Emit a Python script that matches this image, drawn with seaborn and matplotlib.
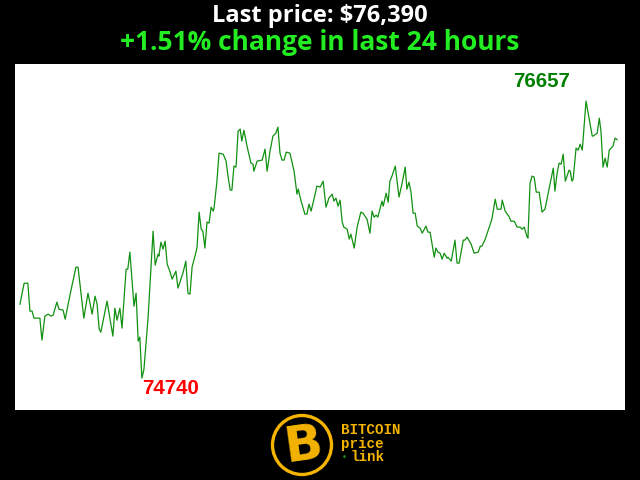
import matplotlib
matplotlib.use("Agg")
import matplotlib.pyplot as plt
import seaborn as sns
import pandas as pd
from matplotlib.patches import Ellipse

# minutes since start of the 24h window
minutes = [0, 10, 19, 24, 29, 34, 48, 53, 60, 68, 75, 80, 89, 94, 104, 109, 121, 135, 140, 154,
           164, 174, 181, 186, 191, 195, 210, 224, 229, 234, 241, 246, 256, 260, 265, 275, 280, 285, 289, 294,
           299, 309, 321, 326, 333, 335, 340, 345, 350, 355, 362, 367, 376, 381, 393, 400, 405, 410, 415, 425,
           427, 432, 437, 441, 446, 451, 456, 461, 466, 468, 475, 480, 490, 497, 502, 507, 511, 516, 521, 526,
           531, 535, 540, 548, 557, 562, 564, 572, 584, 591, 596, 603, 610, 617, 622, 627, 632, 637, 642, 651,
           661, 668, 671, 678, 687, 692, 697, 702, 709, 716, 724, 731, 738, 745, 753, 757, 762, 767, 772, 777,
           781, 789, 794, 798, 806, 813, 822, 827, 837, 844, 849, 854, 859, 863, 873, 876, 883, 888, 892, 897,
           905, 914, 921, 929, 933, 938, 943, 948, 953, 958, 965, 970, 979, 984, 989, 999, 1003, 1008, 1013, 1018,
           1023, 1030, 1032, 1040, 1049, 1054, 1059, 1069, 1073, 1078, 1088, 1095, 1105, 1110, 1114, 1122, 1138, 1146, 1151, 1160,
           1163, 1170, 1175, 1179, 1184, 1192, 1199, 1206, 1211, 1216, 1223, 1225, 1230, 1235, 1240, 1245, 1252, 1259, 1266, 1286,
           1290, 1295, 1300, 1305, 1310, 1315, 1324, 1327, 1331, 1334, 1341, 1346, 1351, 1356, 1365, 1380, 1382, 1392, 1397, 1401,
           1406, 1411, 1416, 1421, 1430, 1435, 1440]

prices = [75252, 75397, 75397, 75204, 75204, 75155, 75155, 75003, 75169, 75183, 75169, 75176, 75266, 75217, 75211, 75148, 75321, 75508, 75508, 75155,
          75328, 75183, 75307, 75252, 75079, 75058, 75273, 75031, 75224, 75141, 75224, 75086, 75494, 75494, 75612, 75238, 75328, 74996, 75024, 74740,
          74802, 75162, 75757, 75522, 75598, 75584, 75681, 75633, 75688, 75529, 75474, 75425, 75480, 75363, 75467, 75550, 75328, 75321, 75508, 75619,
          75647, 75889, 75771, 75757, 75640, 75820, 75813, 75923, 75896, 75916, 76103, 76297, 76290, 76242, 76131, 76041, 76041, 76207, 76200, 76449,
          76463, 76380, 76456, 76339, 76228, 76221, 76172, 76242, 76249, 76325, 76172, 76311, 76415, 76435, 76477, 76297, 76249, 76249, 76304, 76297,
          76172, 76013, 76048, 75965, 75875, 75875, 75944, 75896, 75979, 76069, 76062, 76103, 75923, 75986, 76013, 75965, 75986, 75930, 75972, 75820,
          75785, 75771, 75702, 75736, 75640, 75785, 75889, 75882, 75840, 75743, 75896, 75854, 75868, 75854, 75965, 75930, 76020, 75958, 76103, 76138,
          76207, 75993, 76082, 76200, 76048, 76096, 76027, 75882, 75882, 75792, 75778, 75743, 75792, 75750, 75750, 75577, 75640, 75612, 75605, 75563,
          75605, 75570, 75577, 75550, 75695, 75536, 75536, 75695, 75695, 75716, 75667, 75605, 75612, 75653, 75653, 75702, 75840, 75979, 75909, 75909,
          75972, 75896, 75875, 75861, 75826, 75826, 75785, 75785, 75771, 75785, 75716, 75709, 76089, 76138, 76131, 76027, 76027, 75889, 75909, 76193,
          76034, 76152, 76228, 76221, 76290, 76103, 76179, 76172, 76103, 76117, 76332, 76318, 76359, 76318, 76657, 76415, 76415, 76435, 76539, 76449,
          76200, 76262, 76200, 76318, 76345, 76401, 76390]

last_price = "$76,390"
change = "+1.51%"

df = pd.DataFrame({"minute": minutes, "price": prices})

fig = plt.figure(figsize=(6.4, 4.8), dpi=100, facecolor="black")
ax = fig.add_axes([15 / 640, 70 / 480, 610 / 640, 346 / 480])
ax.set_facecolor("white")

sns.lineplot(data=df, x="minute", y="price", color="#119011", linewidth=0.9, ax=ax)

lo, hi = df["price"].min(), df["price"].max()
rng = hi - lo
ax.set_ylim(lo - 0.115 * rng, hi + 0.134 * rng)
ax.set_xlim(-12, 1459)
ax.set_xticks([])
ax.set_yticks([])
ax.set_xlabel("")
ax.set_ylabel("")
for s in ax.spines.values():
    s.set_visible(False)

imin = df["price"].idxmin()
imax = df["price"].idxmax()
ax.annotate(str(lo), (df.loc[imin, "minute"], lo), xytext=(0, -1), textcoords="offset pixels",
            ha="left", va="top", color="red", fontsize=14.8, fontweight="bold", family="Liberation Sans")
ax.annotate(str(hi), (df.loc[imax, "minute"], hi), xytext=(-16, 10), textcoords="offset pixels",
            ha="right", va="bottom", color="green", fontsize=14.8, fontweight="bold", family="Liberation Sans")

fig.text(0.5, 1 - 16 / 480, f"Last price: {last_price}", ha="center", va="center",
         color="white", fontsize=17, fontweight="bold", family="Open Sans")
fig.text(0.5, 1 - 43 / 480, f"{change} change in last 24 hours", ha="center", va="center",
         color="#22ee22", fontsize=19, fontweight="bold", family="Open Sans")

# logo
gold = "#f5b400"
fig.patches.append(Ellipse((302 / 640, 1 - 445 / 480), 59 / 640, 59 / 480, transform=fig.transFigure,
                           facecolor="black", edgecolor=gold, linewidth=2.4))
fig.text(303 / 640, 1 - 445 / 480, "B", ha="center", va="center", color=gold, fontsize=36,
         fontweight="bold", rotation=8, family="DejaVu Sans")
fig.text(341 / 640, 1 - 430 / 480, "BITCOIN", ha="left", va="center", color=gold, fontsize=10.2,
         fontweight="bold", family="Liberation Mono")
fig.text(341 / 640, 1 - 444 / 480, "price", ha="left", va="center", color=gold, fontsize=10.2,
         fontweight="bold", family="Liberation Mono")
fig.text(350 / 640, 1 - 457 / 480, "link", ha="left", va="center", color=gold, fontsize=10.2,
         fontweight="bold", family="Liberation Mono")
fig.text(344.5 / 640, 1 - 458 / 480, "\u2022", ha="center", va="center", color="#1a9a1a", fontsize=6,
         family="DejaVu Sans")

fig.savefig("out.png", dpi=100, facecolor="black")
